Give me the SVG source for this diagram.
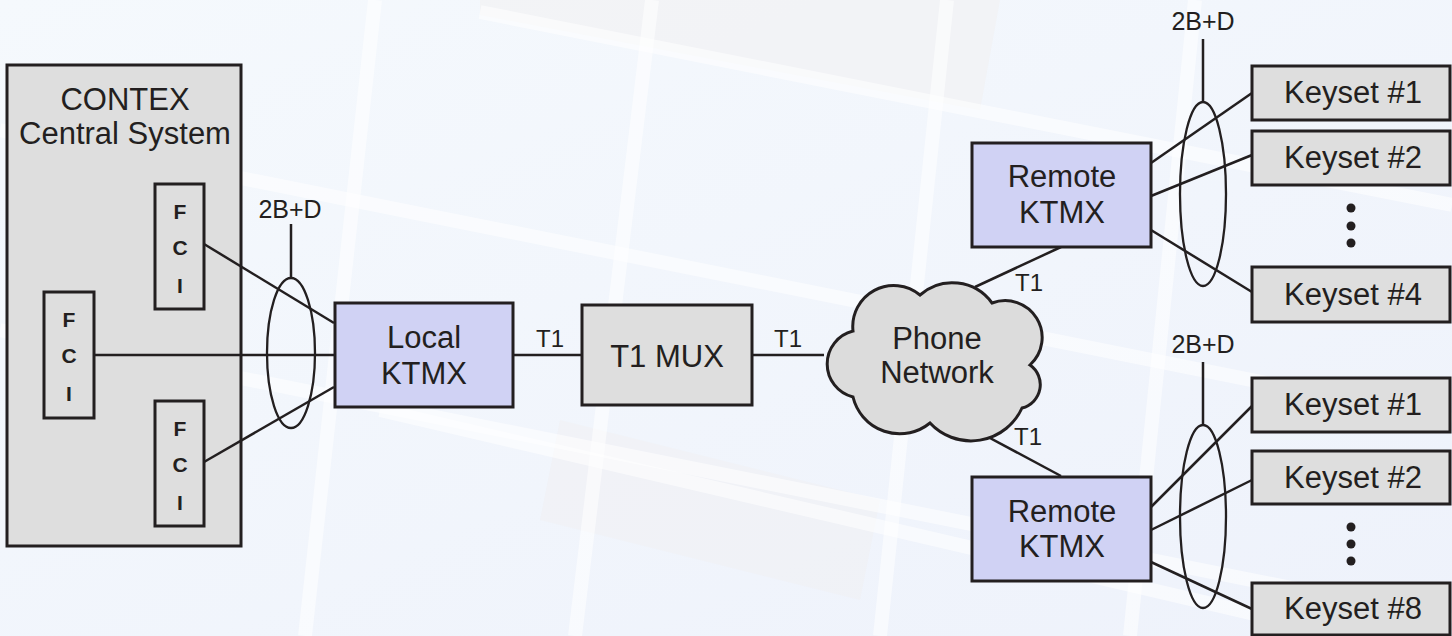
<svg xmlns="http://www.w3.org/2000/svg" width="1452" height="636" viewBox="0 0 1452 636">
<style>
text{font-family:"Liberation Sans",Arial,Helvetica,sans-serif;fill:#231F20;text-anchor:middle}
.lbl{font-size:31px}
.sm{font-size:24px}
.bd{font-size:25px}
.fci{font-size:21px;font-weight:bold}
.box{stroke:#231F20;stroke-width:3}
.gray{fill:#DEDEDE}
.lav{fill:#D0D2F4}
.ln{stroke:#231F20;stroke-width:2.5;fill:none}
.ell{stroke:#231F20;stroke-width:2.3;fill:none}
.band{stroke:#FFFFFF;stroke-width:14;stroke-opacity:0.55;fill:none}
</style>
<defs>
<linearGradient id="bg" x1="0" y1="0" x2="1" y2="1">
<stop offset="0" stop-color="#F5F9FD"/>
<stop offset="1" stop-color="#EEF2FB"/>
</linearGradient>
</defs>
<g id="background">
<rect x="0" y="0" width="1452" height="636" fill="url(#bg)"/>
<polygon points="480,0 1000,0 980,110 480,15" fill="#F2F0F0" opacity="0.5"/>
<polygon points="560,420 880,500 860,600 540,520" fill="#F2EFEE" opacity="0.35"/>
<path class="band" d="M375,0 L305,636"/>
<path class="band" d="M652,0 L575,636"/>
<path class="band" d="M947,0 L880,636"/>
<path class="band" d="M1195,0 L1130,636"/>
<path class="band" d="M480,12 L1452,205"/>
<path class="band" d="M380,410 L1452,660"/>
<path class="band" d="M0,130 L1452,420" stroke-opacity="0.35"/>
<path class="band" d="M0,330 L1452,620" stroke-opacity="0.3"/>
</g>
<g id="contex">
<rect class="box gray" x="7" y="65" width="234" height="481"/>
<text class="lbl" x="125" y="110">CONTEX</text>
<text class="lbl" x="125" y="144">Central System</text>
</g>
<g id="connectors">
<path class="ln" d="M204,244 L334,323"/>
<path class="ln" d="M94,355 L334,355"/>
<path class="ln" d="M204,462 L334,387"/>
<path class="ln" d="M291,224 L291,278"/>
<ellipse class="ell" cx="291" cy="353" rx="24" ry="75"/>
<path class="ln" d="M513,355 L582,355"/>
<path class="ln" d="M752,355 L824,355"/>
<path class="ln" d="M975,287 L1061,247"/>
<path class="ln" d="M975,430 L1061,476"/>
<path class="ln" d="M1151,163 L1252,93"/>
<path class="ln" d="M1151,196 L1252,155"/>
<path class="ln" d="M1151,230 L1252,292"/>
<path class="ln" d="M1203,39 L1203,102"/>
<ellipse class="ell" cx="1203" cy="194" rx="23" ry="92"/>
<path class="ln" d="M1151,507 L1252,406"/>
<path class="ln" d="M1151,530 L1252,480"/>
<path class="ln" d="M1151,562 L1252,609"/>
<path class="ln" d="M1203,362 L1203,425"/>
<ellipse class="ell" cx="1203" cy="516.5" rx="23" ry="91.5"/>
<text class="bd" x="290" y="218">2B+D</text>
<text class="bd" x="1203" y="30">2B+D</text>
<text class="bd" x="1203" y="353">2B+D</text>
<text class="sm" x="550" y="347">T1</text>
<text class="sm" x="788" y="347">T1</text>
<text class="sm" x="1029" y="291">T1</text>
<text class="sm" x="1028" y="445">T1</text>
</g>
<g id="fci1">
<rect class="box gray" x="155" y="184" width="49" height="125"/>
<text class="fci" x="180" y="219">F</text>
<text class="fci" x="180" y="255">C</text>
<text class="fci" x="180" y="293">I</text>
</g>
<g id="fci2">
<rect class="box gray" x="44" y="292" width="50" height="126"/>
<text class="fci" x="69" y="327">F</text>
<text class="fci" x="69" y="363">C</text>
<text class="fci" x="69" y="401">I</text>
</g>
<g id="fci3">
<rect class="box gray" x="155" y="401" width="49" height="125"/>
<text class="fci" x="180" y="436">F</text>
<text class="fci" x="180" y="472">C</text>
<text class="fci" x="180" y="510">I</text>
</g>
<g id="local-ktmx">
<rect class="box lav" x="335" y="303" width="178" height="104"/>
<text class="lbl" x="424" y="348">Local</text>
<text class="lbl" x="424" y="384">KTMX</text>
</g>
<g id="t1-mux">
<rect class="box gray" x="582" y="305" width="170" height="100"/>
<text class="lbl" x="667" y="367">T1 MUX</text>
</g>
<g id="phone-network">
<path class="box" fill="#DCDCDC" d="M853,397 A34,34 0 0 1 853,331 A41,41 0 0 1 920,295 A49,49 0 0 1 992,303 A37,37 0 0 1 1030,365 A24,24 0 0 1 1022,408 A56,56 0 0 1 930,423 A48,48 0 0 1 853,397 Z"/>
<text class="lbl" x="937" y="349">Phone</text>
<text class="lbl" x="937" y="383">Network</text>
</g>
<g id="remote-ktmx-1">
<rect class="box lav" x="972" y="143" width="179" height="104"/>
<text class="lbl" x="1062" y="187">Remote</text>
<text class="lbl" x="1062" y="223">KTMX</text>
</g>
<g id="remote-ktmx-2">
<rect class="box lav" x="972" y="477" width="179" height="104"/>
<text class="lbl" x="1062" y="522">Remote</text>
<text class="lbl" x="1062" y="557">KTMX</text>
</g>
<g id="keyset-a1">
<rect class="box gray" x="1252" y="66" width="198" height="54"/>
<text class="lbl" x="1353" y="103">Keyset #1</text>
</g>
<g id="keyset-a2">
<rect class="box gray" x="1252" y="131" width="198" height="54"/>
<text class="lbl" x="1353" y="168">Keyset #2</text>
</g>
<g id="dots-a" fill="#231F20">
<circle cx="1351" cy="208" r="4.5"/>
<circle cx="1351" cy="226" r="4.5"/>
<circle cx="1351" cy="243" r="4.5"/>
</g>
<g id="keyset-a4">
<rect class="box gray" x="1252" y="267" width="198" height="55"/>
<text class="lbl" x="1353" y="305">Keyset #4</text>
</g>
<g id="keyset-b1">
<rect class="box gray" x="1252" y="378" width="198" height="54"/>
<text class="lbl" x="1353" y="415">Keyset #1</text>
</g>
<g id="keyset-b2">
<rect class="box gray" x="1252" y="451" width="198" height="53"/>
<text class="lbl" x="1353" y="488">Keyset #2</text>
</g>
<g id="dots-b" fill="#231F20">
<circle cx="1351" cy="527" r="4.5"/>
<circle cx="1351" cy="544" r="4.5"/>
<circle cx="1351" cy="561" r="4.5"/>
</g>
<g id="keyset-b8">
<rect class="box gray" x="1252" y="583" width="198" height="52"/>
<text class="lbl" x="1353" y="619">Keyset #8</text>
</g>
</svg>
